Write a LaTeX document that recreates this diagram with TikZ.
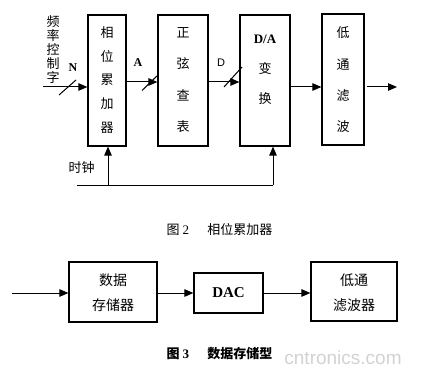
\documentclass[tikz,border=0pt]{standalone}
\usepackage{fontspec}
\setmainfont{Liberation Serif}
\newfontfamily\cjk{Noto Sans CJK SC}
\newfontfamily\wmfont{Liberation Sans}
\usetikzlibrary{arrows.meta}
\begin{document}
\begin{tikzpicture}[x=1pt,y=-1pt,
  blk/.style={draw,line width=1.2pt,inner sep=0pt},
  arr/.style={-{Triangle[length=9pt,width=7.5pt]},line width=1pt},
  ln/.style={line width=1pt},
  vt/.style={align=center,inner sep=0pt},
  lab/.style={inner sep=0pt,font=\bfseries\fontsize{12}{14}\selectfont},
]
\useasboundingbox (0,0) rectangle (422,374);

% ---------- Figure 2 ----------
\node[blk,minimum width=38pt,minimum height=131pt] (acc) at (107,80.5) {};
\node[blk,minimum width=50pt,minimum height=131pt] (sin) at (183,80.5) {};
\node[blk,minimum width=50pt,minimum height=131pt] (da)  at (265,80.5) {};
\node[blk,minimum width=42pt,minimum height=131pt] (lp)  at (343,79.5) {};

\node[vt,font=\cjk\fontsize{13}{23.7}\selectfont] (acct) at (107,80) {相\\位\\累\\加\\器};
\node[vt,font=\cjk\fontsize{13}{31.3}\selectfont] (sint) at (183,80) {正\\弦\\查\\表};
\node[vt,font=\cjk\fontsize{13}{30}\selectfont] (dat) at (265,70) {{\rmfamily\bfseries D/A}\\变\\换};
\node[vt,font=\cjk\fontsize{13}{31.3}\selectfont] (lpt) at (343,80) {低\\通\\滤\\波};

\node[vt,font=\cjk\fontsize{13}{13.8}\selectfont] (fcw) at (53,49.5) {频\\率\\控\\制\\字};

% input
\coordinate (in) at (43,87);
\draw[arr] (in) -- (acc.west |- in);
\draw[ln] (59,95) -- (76,80);
\node[lab] (N) at (73,68) {N};

% acc -> sin
\coordinate (a1) at (126,82);
\draw[arr] (acc.east |- a1) -- (sin.west |- a1);
\draw[ln] (142,90.5) -- (158,75);
\node[lab] (A) at (138,63) {A};

% sin -> da
\coordinate (d1) at (208,82);
\draw[arr] (sin.east |- d1) -- (da.west |- d1);
\draw[ln] (224,87) -- (242,67);
\node[lab,font=\wmfont\fontsize{11}{13}\selectfont] (D) at (221,63) {D};

% da -> lp
\coordinate (e1) at (290,87);
\draw[arr] (da.east |- e1) -- (lp.west |- e1);

% output
\coordinate (o1) at (367,87);
\coordinate (o2) at (397,87);
\draw[arr] (o1) -- (o2);

% clock
\coordinate (cL) at (77,185);
\coordinate (cR) at (273,185);
\coordinate (cA) at (108,185);
\draw[ln] (cL) -- (cR);
\draw[arr] (cA) -- (cA |- acc.south);
\draw[arr] (cR) -- (cR |- da.south);
\node[inner sep=0pt,font=\cjk\fontsize{13}{15}\selectfont] (clk) at (81.5,168) {时钟};

\node[inner sep=0pt,font=\cjk\fontsize{13}{15}\selectfont] (cap2) at (219.5,230) {图 {\rmfamily 2}\hspace{1.4em}相位累加器};

% ---------- Figure 3 ----------
\node[blk,minimum width=88pt,minimum height=60pt] (st) at (113,292) {};
\node[blk,minimum width=69pt,minimum height=40pt] (dac) at (228.5,293) {};
\node[blk,minimum width=86pt,minimum height=59pt] (lpf) at (354,291.5) {};

\node[vt,font=\cjk\fontsize{14}{25}\selectfont] (stt) at (113,292.5) {数据\\存储器};
\node[inner sep=0pt,font=\rmfamily\bfseries\fontsize{15}{17}\selectfont] (dact) at (228.5,293) {DAC};
\node[vt,font=\cjk\fontsize{14}{25}\selectfont] (lpft) at (354,292.5) {低通\\滤波器};

\coordinate (i3) at (12,293);
\draw[arr] (i3) -- (st.west |- i3);
\draw[arr] (st.east |- i3) -- (dac.west |- i3);
\draw[arr] (dac.east |- i3) -- (lpf.west |- i3);

\node[inner sep=0pt,font=\cjk\bfseries\fontsize{13}{15}\selectfont] (cap3) at (219.5,354) {图 {\rmfamily\bfseries 3}\hspace{1.4em}数据存储型};

\node[inner sep=0pt,text=gray!35,font=\wmfont\fontsize{19}{22}\selectfont] (wm) at (343,358) {cntronics.com};
\end{tikzpicture}
\end{document}
